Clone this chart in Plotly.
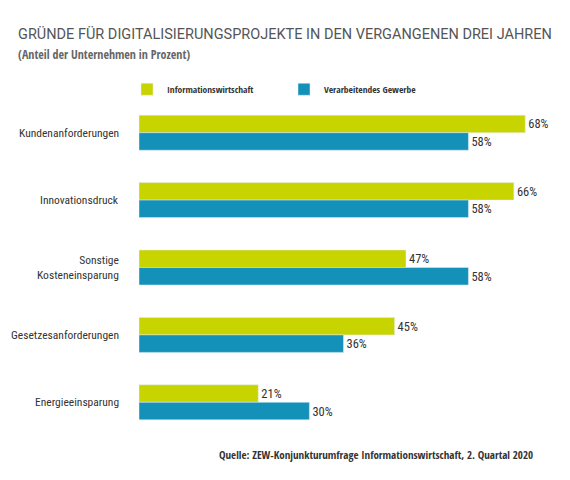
import plotly.graph_objects as go

categories = ["Kundenanforderungen", "Innovationsdruck", "Sonstige<br>Kosteneinsparung",
              "Gesetzesanforderungen", "Energieeinsparung"]
info_wirtschaft = [68, 66, 47, 45, 21]
verarb_gewerbe = [58, 58, 58, 36, 30]

GREEN = "#c8d400"
BLUE = "#1491b9"
FONT = "Roboto Condensed"
BOLD = "Open Sans Condensed"

# figure size (page body adds 8px around it) and plot area in pixels
W, H = 554, 464
L, R, T, B = 131, 12, 90.75, 35.75
pw = W - L - R
ph = H - T - B

def px_x(x):
    return (x - L) / pw

def px_y(y):
    return (H - B - y) / ph

fig = go.Figure()
fig.add_trace(go.Bar(
    y=categories, x=info_wirtschaft, orientation="h", name="Informationswirtschaft",
    marker_color=GREEN, texttemplate="%{x}%", textposition="outside",
    textfont=dict(size=12.5, color="#333333", family=FONT), cliponaxis=False,
))
fig.add_trace(go.Bar(
    y=categories, x=verarb_gewerbe, orientation="h", name="Verarbeitendes Gewerbe",
    marker_color=BLUE, texttemplate="%{x}%", textposition="outside",
    textfont=dict(size=12.5, color="#333333", family=FONT), cliponaxis=False,
))

fig.update_layout(
    width=W, height=H,
    margin=dict(l=L, r=R, t=T, b=B, autoexpand=False),
    barmode="group", bargap=0.48, bargroupgap=0,
    plot_bgcolor="white", paper_bgcolor="white",
    font=dict(family=FONT, color="#333333"),
    title=dict(text="GRÜNDE FÜR DIGITALISIERUNGSPROJEKTE IN DEN VERGANGENEN DREI JAHREN",
               xref="container", x=10 / W, xanchor="left",
               yref="container", y=1 - 25.5 / H, yanchor="middle",
               font=dict(size=14.5, color="#555555", family="Roboto")),
    legend=dict(orientation="h", x=px_x(119), y=px_y(81), xanchor="left", yanchor="middle",
                font=dict(size=9.5, color="#333333", family=BOLD), entrywidth=112,
                traceorder="normal"),
    showlegend=True,
)
fig.update_xaxes(range=[0, pw / 5.68], visible=False)
fig.update_yaxes(autorange="reversed", showline=False, showgrid=False, ticks="",
                 automargin=False, showticklabels=False)

# category labels, right aligned (also for the two-line label)
for cat in categories:
    fig.add_annotation(text=cat, xref="paper", yref="y", x=px_x(113), y=cat,
                       xanchor="right", yanchor="middle", align="right", showarrow=False,
                       font=dict(size=11.5, color="#333333", family=FONT))

fig.add_annotation(text="<b>(Anteil der Unternehmen in Prozent)</b>", xref="paper", yref="paper",
                   x=px_x(8), y=px_y(46), xanchor="left", yanchor="middle", showarrow=False,
                   font=dict(size=12, color="#666666", family=BOLD))
fig.add_annotation(text="<b>Quelle: ZEW-Konjunkturumfrage Informationswirtschaft, 2. Quartal 2020</b>",
                   xref="paper", yref="paper", x=px_x(527), y=px_y(447), xanchor="right",
                   yanchor="middle", showarrow=False,
                   font=dict(size=11, color="#333333", family=BOLD))

fig.write_html("out.html")
